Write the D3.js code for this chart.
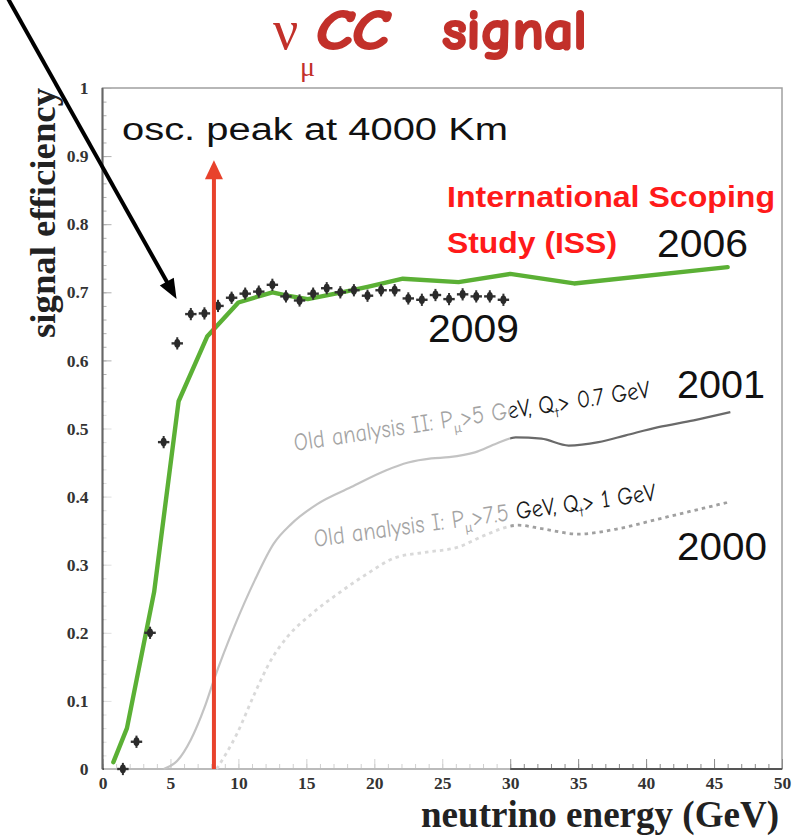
<!DOCTYPE html>
<html>
<head>
<meta charset="utf-8">
<script src="https://cdn.jsdelivr.net/npm/d3@7"></script>
<style>
  body { margin: 0; background: #fff; }
  svg { display: block; }
</style>
</head>
<body>
<svg id="chart" width="799" height="836"></svg>
<script>
// ---- data ----
// ISS 2006 efficiency curve
const energyISS = [0.8, 1.8, 3.8, 5.6, 7.7, 10.0, 12.5, 13.6, 15.1, 17.6, 19.5, 22.1, 26.2, 30.0, 34.7, 46.0];
const effISS    = [0.01, 0.06, 0.26, 0.54, 0.635, 0.685, 0.70, 0.695, 0.69, 0.70, 0.708, 0.72, 0.715, 0.727, 0.713, 0.737];

// 2009 analysis, 1 GeV bins
const energy2009 = [1.5, 2.5, 3.5, 4.5, 5.5, 6.5, 7.5, 8.5, 9.5, 10.5, 11.5, 12.5, 13.5, 14.5, 15.5,
                    16.5, 17.5, 18.5, 19.5, 20.5, 21.5, 22.5, 23.5, 24.5, 25.5, 26.5, 27.5, 28.5, 29.5];
const eff2009    = [0.0, 0.04, 0.20, 0.48, 0.625, 0.668, 0.669, 0.68, 0.692, 0.698, 0.701, 0.711, 0.694, 0.688, 0.698,
                    0.706, 0.700, 0.703, 0.695, 0.703, 0.703, 0.691, 0.689, 0.696, 0.690, 0.697, 0.694, 0.694, 0.689];

// Old analysis II (2001)
const energy2001 = [4.5, 5.5, 6.5, 7.5, 8.2, 9.7, 11.2, 12.6, 13.9, 15.8, 18.3, 20.8, 22.5, 24.2, 25.5,
                    27.4, 29.0, 30.4, 32.3, 34.3, 36.5, 38.5, 40.9, 43.5, 46.2];
const eff2001    = [0.0, 0.012, 0.043, 0.09, 0.131, 0.209, 0.277, 0.331, 0.360, 0.389, 0.414, 0.438, 0.450, 0.456, 0.458,
                    0.465, 0.478, 0.487, 0.485, 0.475, 0.480, 0.490, 0.502, 0.512, 0.524];

// Old analysis I (2000)
const energy2000 = [8.4, 9.9, 11.2, 12.4, 13.6, 15.4, 17.3, 19.5, 21.5, 23.7, 26.2, 28.1, 30.6, 32.3, 35.0, 38.0, 40.9, 46.1];
const eff2000    = [0.0, 0.052, 0.111, 0.160, 0.194, 0.228, 0.257, 0.287, 0.31, 0.318, 0.326, 0.343, 0.358, 0.353, 0.345, 0.353, 0.367, 0.392];

const xTicks = [0, 5, 10, 15, 20, 25, 30, 35, 40, 45, 50];
const yTicks = [0, 0.1, 0.2, 0.3, 0.4, 0.5, 0.6, 0.7, 0.8, 0.9, 1];

const oscPeakEnergy = 8.2;   // oscillation peak at 4000 km
const oscArrowTop = 0.894;

// ---- setup ----
const svg = d3.select("#chart");
const x = d3.scaleLinear().domain([0, 50]).range([102.5, 782]);
const y = d3.scaleLinear().domain([0, 1]).range([769, 88]);

const serif = "'Liberation Serif', 'Times New Roman', serif";
const sans = "'Liberation Sans', Arial, sans-serif";
const comic = "'Comic Sans MS', 'Comic Neue', Lato, sans-serif";
const titleRed = "#c2302a";

const defs = svg.append("defs");
defs.append("filter").attr("id", "soft")
  .append("feGaussianBlur").attr("stdDeviation", 0.6);

// ---- frame ----
svg.append("rect")
  .attr("x", x(0)).attr("y", y(1))
  .attr("width", x(50) - x(0)).attr("height", y(0) - y(1))
  .attr("fill", "none").attr("stroke", "#a0a0a0").attr("stroke-width", 1.5);

// ---- axes ----
function styleAxis(g) {
  g.select(".domain").remove();
  g.selectAll(".tick line").attr("stroke", "#8a8a8a");
  g.selectAll(".tick text")
    .attr("font-family", serif).attr("font-weight", "bold")
    .attr("font-size", 17.5).attr("fill", "#333");
}

const gxMinor = svg.append("g").attr("transform", `translate(0,${y(0)})`)
  .call(d3.axisBottom(x).tickValues(d3.range(0, 51, 1)).tickSize(-5).tickFormat(""));
styleAxis(gxMinor);
const gx = svg.append("g").attr("transform", `translate(0,${y(0)})`)
  .call(d3.axisBottom(x).tickValues(xTicks).tickSize(-10).tickPadding(8).tickFormat(d => d));
styleAxis(gx);

const gyMinor = svg.append("g").attr("transform", `translate(${x(0)},0)`)
  .call(d3.axisLeft(y).tickValues(d3.range(0, 1.001, 0.02)).tickSize(-4).tickFormat(""));
styleAxis(gyMinor);
gyMinor.selectAll(".tick line").attr("stroke", "#b0b0b0");
const gy = svg.append("g").attr("transform", `translate(${x(0)},0)`)
  .call(d3.axisLeft(y).tickValues(yTicks).tickSize(-9).tickPadding(14)
    .tickFormat(d => (d === 0 || d === 1) ? d : d.toFixed(1)));
styleAxis(gy);
gy.selectAll(".tick line").attr("stroke", "#b0b0b0");

// axis lines
svg.append("line").attr("x1", x(0)).attr("x2", x(0)).attr("y1", y(0)).attr("y2", y(1))
  .attr("stroke", "#666").attr("stroke-width", 2);
svg.append("line").attr("x1", x(0)).attr("x2", x(50)).attr("y1", y(0)).attr("y2", y(0))
  .attr("stroke", "#555").attr("stroke-width", 1.8);

// ---- old analyses ----
const line = d3.line().x(d => x(d[0])).y(d => y(d[1])).curve(d3.curveMonotoneX);

svg.append("path")
  .datum(d3.zip(energy2000, eff2000))
  .attr("d", line).attr("fill", "none")
  .attr("stroke", "#a0a0a0").attr("stroke-width", 2.8)
  .attr("stroke-dasharray", "3.5,4");

svg.append("path")
  .datum(d3.zip(energy2001, eff2001))
  .attr("d", line).attr("fill", "none")
  .attr("stroke", "#6a6a6a").attr("stroke-width", 2.2);

function oldLabel(px, py, angle, len, parts) {
  const t = svg.append("text")
    .attr("transform", `translate(${px},${py}) rotate(${angle})`)
    .attr("font-family", comic).attr("font-size", 25).attr("fill", "#1a1a1a")
    .attr("textLength", len).attr("lengthAdjust", "spacingAndGlyphs");
  parts.forEach(p => {
    const s = t.append("tspan").text(p.t);
    if (p.sub) s.attr("font-size", 14).attr("dy", 6);
    if (p.up) s.attr("dy", -6);
  });
}
oldLabel(295, 451, -8.6, 360, [
  { t: "Old analysis II: P" }, { t: "μ", sub: true }, { t: ">5 GeV,  Q", up: true },
  { t: "t", sub: true }, { t: "> 0.7 GeV", up: true }
]);
oldLabel(315, 547, -7.8, 345, [
  { t: "Old analysis I: P" }, { t: "μ", sub: true }, { t: ">7.5 GeV,  Q", up: true },
  { t: "t", sub: true }, { t: "> 1 GeV", up: true }
]);

// washed-out region over the lower left of the plot
svg.append("rect")
  .attr("x", x(0) + 1.5).attr("y", 378)
  .attr("width", x(30) - x(0) - 1.5).attr("height", y(0) - 378 + 2)
  .attr("fill", "#fff").attr("opacity", 0.6);

// ---- ISS 2006 ----
svg.append("path")
  .datum(d3.zip(energyISS, effISS))
  .attr("d", d3.line().x(d => x(d[0])).y(d => y(d[1])))
  .attr("fill", "none").attr("stroke", "#5bb035").attr("stroke-width", 4.4)
  .attr("stroke-linejoin", "round").attr("stroke-linecap", "round");

// ---- 2009 points with error bars ----
const pts = svg.append("g").attr("filter", "url(#soft)");
d3.zip(energy2009, eff2009).forEach(([e, v]) => {
  pts.append("line").attr("x1", x(e - 0.42)).attr("x2", x(e + 0.42))
    .attr("y1", y(v)).attr("y2", y(v)).attr("stroke", "#333").attr("stroke-width", 2.4);
  pts.append("line").attr("x1", x(e)).attr("x2", x(e))
    .attr("y1", y(v + 0.009)).attr("y2", y(v - 0.009)).attr("stroke", "#333").attr("stroke-width", 2);
  pts.append("ellipse").attr("cx", x(e)).attr("cy", y(v))
    .attr("rx", 3).attr("ry", 4.4).attr("fill", "#2a2a2a");
});

// ---- oscillation peak arrow ----
const redArrow = "#e8422c";
const ax = x(oscPeakEnergy), aTop = y(oscArrowTop);
svg.append("line").attr("x1", ax).attr("x2", ax).attr("y1", y(0)).attr("y2", aTop + 14)
  .attr("stroke", redArrow).attr("stroke-width", 4);
svg.append("path")
  .attr("d", `M${ax},${aTop} L${ax + 9},${aTop + 19} L${ax - 9},${aTop + 19} Z`)
  .attr("fill", redArrow);

// ---- pointer arrow to the 2009 points ----
const p0 = [x(-7.2), y(1.14)], p1 = [x(5.45), y(0.69)];
const ang = Math.atan2(p1[1] - p0[1], p1[0] - p0[0]);
const hl = 20, hw = 8;
const bx = p1[0] - hl * Math.cos(ang), by = p1[1] - hl * Math.sin(ang);
svg.append("line").attr("x1", p0[0]).attr("y1", p0[1]).attr("x2", bx + 3 * Math.cos(ang)).attr("y2", by + 3 * Math.sin(ang))
  .attr("stroke", "#000").attr("stroke-width", 4);
svg.append("path")
  .attr("d", `M${p1[0]},${p1[1]} L${bx + hw * Math.sin(ang)},${by - hw * Math.cos(ang)} L${bx - hw * Math.sin(ang)},${by + hw * Math.cos(ang)} Z`)
  .attr("fill", "#000");

// ---- texts ----
function label(txt, px, py, size, len, opts = {}) {
  const t = svg.append("text").attr("x", px).attr("y", py)
    .attr("font-family", opts.family || sans).attr("font-size", size)
    .attr("font-weight", opts.weight || "normal").attr("fill", opts.fill || "#111")
    .text(txt);
  if (len) t.attr("textLength", len).attr("lengthAdjust", "spacingAndGlyphs");
  return t;
}
label("osc. peak at 4000 Km", 122, 140, 31, 386);
label("International Scoping", 447, 207, 30, 328, { weight: "bold", fill: "#ff1a1a" });
label("Study (ISS)", 447, 253, 30, 170, { weight: "bold", fill: "#ff1a1a" });
label("2006", 657, 257, 38, 91);
label("2009", 428, 342, 38, 91);
label("2001", 677, 398, 38, 88);
label("2000", 677, 560, 38, 90);

// title
svg.append("text").attr("x", 273).attr("y", 49)
  .attr("font-family", serif).attr("font-size", 56).attr("fill", titleRed).text("ν");
svg.append("text").attr("x", 300).attr("y", 76)
  .attr("font-family", serif).attr("font-size", 28).attr("fill", titleRed).text("μ");
svg.append("text").attr("x", 316).attr("y", 49)
  .attr("font-family", comic).attr("font-size", 56).attr("font-weight", 900).attr("font-style", "italic")
  .attr("fill", titleRed).attr("stroke", titleRed).attr("stroke-width", 2.2).attr("stroke-linejoin", "round")
  .attr("textLength", 72).attr("lengthAdjust", "spacingAndGlyphs").text("CC");
svg.append("text").attr("x", 442).attr("y", 49)
  .attr("font-family", comic).attr("font-size", 56).attr("font-weight", 900)
  .attr("fill", titleRed).attr("stroke", titleRed).attr("stroke-width", 2.2).attr("stroke-linejoin", "round")
  .attr("textLength", 145).attr("lengthAdjust", "spacingAndGlyphs").text("signal");

// axis titles
svg.append("text")
  .attr("transform", `translate(55,${88 + 125}) rotate(-90)`)
  .attr("text-anchor", "middle")
  .attr("font-family", serif).attr("font-weight", "bold").attr("font-size", 36).attr("fill", "#222")
  .attr("textLength", 250).attr("lengthAdjust", "spacingAndGlyphs")
  .text("signal efficiency");
svg.append("text")
  .attr("x", 779).attr("y", 827).attr("text-anchor", "end")
  .attr("font-family", serif).attr("font-weight", "bold").attr("font-size", 38).attr("fill", "#222")
  .attr("textLength", 358).attr("lengthAdjust", "spacingAndGlyphs")
  .text("neutrino energy (GeV)");
</script>
</body>
</html>
